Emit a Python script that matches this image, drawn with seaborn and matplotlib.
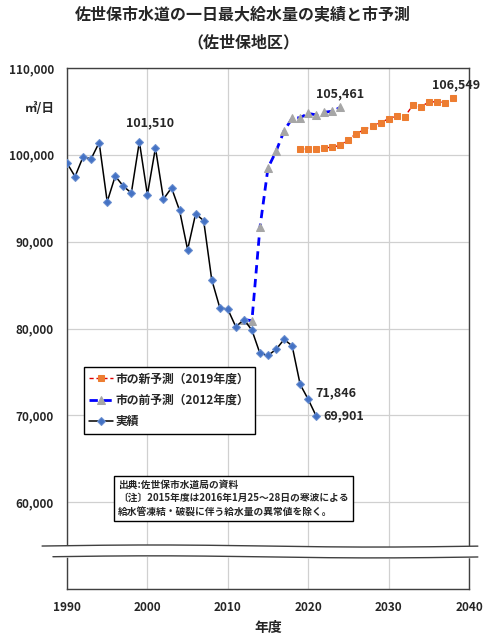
import numpy as np
import pandas as pd
import matplotlib
matplotlib.use("Agg")
import matplotlib.pyplot as plt
import matplotlib.transforms as mtransforms
import seaborn as sns

# ---- data ----
actual_years = list(range(1990, 2022))
actual_values = [99050, 97500, 99770, 99540, 101410, 94600, 97550, 96400, 95600, 101510,
                 95400, 100800, 94900, 96200, 93600, 89080, 93220, 92410, 85630, 82410,
                 82220, 80190, 81030, 79810, 77130, 76900, 77590, 78740, 78010, 73560,
                 71846, 69901]

prev_years = list(range(2012, 2025))
prev_values = [81030, 80900, 91640, 98500, 100400, 102760, 104200, 104280, 104770,
               104600, 104900, 105020, 105461]

new_years = list(range(2019, 2039))
new_values = [100650, 100690, 100690, 100800, 100880, 101110, 101760, 102450, 102910,
              103370, 103680, 104170, 104480, 104370, 105710, 105550, 106060, 106130,
              106010, 106549]

x_ticks = [1990, 2000, 2010, 2020, 2030, 2040]
y_ticks = [50000, 60000, 70000, 80000, 90000, 100000, 110000]
y_ticklabels = ["", "60,000", "70,000", "80,000", "90,000", "100,000", "110,000"]

title1 = "佐世保市水道の一日最大給水量の実績と市予測"
title2 = "（佐世保地区）"
lbl_new = "市の新予測（2019年度）"
lbl_prev = "市の前予測（2012年度）"
lbl_act = "実績"
note_text = ("出典:佐世保市水道局の資料\n"
             "〔注〕2015年度は2016年1月25～28日の寒波による\n"
             "給水管凍結・破裂に伴う給水量の異常値を除く。")

# ---- style ----
sns.set_theme(style="whitegrid")
plt.rcParams['font.family'] = ['Noto Sans CJK JP', 'DejaVu Sans']
plt.rcParams['font.weight'] = 'bold'

fig = plt.figure(figsize=(4.86, 6.40), dpi=100)
W, H = 486, 640
ax = fig.add_axes([67 / W, 1 - 589 / H, (469 - 67) / W, (589 - 68) / H])
ax.set_facecolor("white")

df_act = pd.DataFrame({"year": actual_years, "value": actual_values})
df_prev = pd.DataFrame({"year": prev_years, "value": prev_values})
df_new = pd.DataFrame({"year": new_years, "value": new_values})

sns.lineplot(data=df_new, x="year", y="value", ax=ax, color="#E00000", lw=1.0,
             linestyle=(0, (3, 2)), marker="s", markersize=5,
             markerfacecolor="#ED7D31", markeredgecolor="#ED7D31", label=lbl_new, zorder=4)
sns.lineplot(data=df_prev, x="year", y="value", ax=ax, color="#0000FF", lw=2.0,
             linestyle=(0, (3, 2)), marker="^", markersize=5.5,
             markerfacecolor="#A6A6A6", markeredgecolor="#A6A6A6", label=lbl_prev, zorder=3)
sns.lineplot(data=df_act, x="year", y="value", ax=ax, color="black", lw=1.1,
             marker="D", markersize=4,
             markerfacecolor="#4472C4", markeredgecolor="#6A8FD0", label=lbl_act, zorder=5)

ax.set_xlim(1990, 2040)
ax.set_ylim(50000, 110000)
ax.set_xticks(x_ticks)
ax.set_xticklabels([str(t) for t in x_ticks], fontsize=8.5, fontweight='bold')
ax.set_yticks(y_ticks)
ax.set_yticklabels(y_ticklabels, fontsize=8.5, fontweight='bold')
ax.tick_params(axis='both', length=3.5, color="#AAAAAA")
ax.tick_params(axis='x', pad=5)
ax.tick_params(axis='y', pad=6)
ax.grid(True, color="#D0D0D0", lw=0.9)
for s in ax.spines.values():
    s.set_color("#404040")
    s.set_linewidth(1.0)
ax.set_xlabel("年度", fontsize=10, fontweight='bold', labelpad=5)
ax.set_ylabel("")

# ---- data labels ----
imax = int(np.argmax(actual_values[:15]))
ax.annotate(f"{actual_values[imax]:,}", (actual_years[imax], actual_values[imax]),
            xytext=(8, 9), textcoords="offset points", ha="center", va="bottom",
            fontsize=9, fontweight='bold')
ax.annotate(f"{prev_values[-1]:,}", (prev_years[-1], prev_values[-1]),
            xytext=(0, 5), textcoords="offset points", ha="center", va="bottom",
            fontsize=9, fontweight='bold')
ax.annotate(f"{new_values[-1]:,}", (new_years[-1], new_values[-1]),
            xytext=(2, 5), textcoords="offset points", ha="center", va="bottom",
            fontsize=9, fontweight='bold')
ax.annotate(f"{actual_values[-2]:,}", (actual_years[-2], actual_values[-2]),
            xytext=(5, 0), textcoords="offset points", ha="left", va="bottom",
            fontsize=9, fontweight='bold')
ax.annotate(f"{actual_values[-1]:,}", (actual_years[-1], actual_values[-1]),
            xytext=(5, 0), textcoords="offset points", ha="left", va="center",
            fontsize=9, fontweight='bold')

# ---- legend ----
handles, labels = ax.get_legend_handles_labels()
leg = ax.legend(handles, labels, loc="upper left",
                bbox_to_anchor=(84 / W, 1 - 367 / H), bbox_transform=fig.transFigure,
                borderaxespad=0, fancybox=False, framealpha=1, edgecolor="black",
                handlelength=2.0, handletextpad=0.25, borderpad=0.45, labelspacing=0.72,
                prop={'weight': 'bold', 'size': 8.5})
leg.get_frame().set_linewidth(1.0)

# ---- axis break ----
trans = mtransforms.blended_transform_factory(ax.transAxes, ax.transData)


def wavy(x):
    return 120 * np.sin((x + 0.06) * 2 * np.pi / 1.1)


xf = np.linspace(-0.07, 1.03, 200)
ax.fill_between(xf, 53700 + wavy(xf), 54950 + wavy(xf),
                transform=trans, color="white", clip_on=False, zorder=10)
xs = np.linspace(-0.062, 1.022, 200)
xs2 = np.linspace(-0.035, 1.022, 200)
ax.plot(xs, 54950 + wavy(xs), transform=trans, color="#404040", lw=1.0, clip_on=False, zorder=11)
ax.plot(xs2, 53700 + wavy(xs2), transform=trans, color="#404040", lw=1.0, clip_on=False, zorder=11)

# ---- texts ----
fig.text(0.5, 1 - 15 / H, title1, ha="center", va="center", fontsize=11.5, fontweight='bold')
fig.text(0.5, 1 - 42 / H, title2, ha="center", va="center", fontsize=11.5, fontweight='bold')
fig.text(40 / W, 1 - 109 / H, "㎥/日", ha="center", va="center", fontsize=9, fontweight='bold')

fig.text(118 / W, 1 - 480 / H, note_text, ha="left", va="top", fontsize=7.0,
         fontweight='bold', linespacing=1.4,
         bbox=dict(boxstyle="square,pad=0.45", facecolor="white", edgecolor="black", lw=1.0))

fig.savefig("out.png", dpi=100)
